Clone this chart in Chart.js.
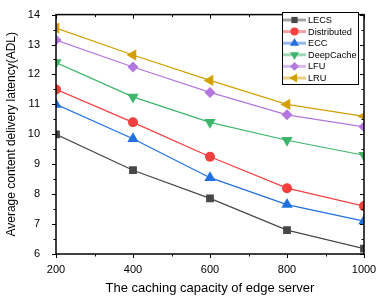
<!DOCTYPE html>
<html>
<head>
<meta charset="utf-8">
<script src="https://cdn.jsdelivr.net/npm/chart.js@4.4.1/dist/chart.umd.min.js"></script>
<style>
  html, body { margin: 0; padding: 0; background: #fff; }
  #wrap { width: 391px; height: 300px; }
</style>
</head>
<body>
<div id="wrap"><canvas id="c"></canvas></div>
<script>
// capacity values on the x axis
var capacity = [200, 400, 600, 800, 1000];

var lecs        = [10.0, 8.8, 7.86, 6.8, 6.18];
var distributed = [11.5, 10.4, 9.25, 8.2, 7.6];
var ecc         = [11.0, 9.85, 8.55, 7.65, 7.1];
var deepCache   = [12.4, 11.25, 10.4, 9.8, 9.3];
var lfu         = [13.15, 12.25, 11.4, 10.65, 10.25];
var lru         = [13.55, 12.65, 11.8, 11.0, 10.6];

var xTicks = [200, 400, 600, 800, 1000];
var yTicks = [6, 7, 8, 9, 10, 11, 12, 13, 14];

var FONT = '"Liberation Sans", Arial, sans-serif';

function pts(vals) {
  return vals.map(function (v, i) { return { x: capacity[i], y: v }; });
}

function serie(label, vals, color, style, rot, r) {
  return {
    label: label,
    data: pts(vals),
    borderColor: color,
    backgroundColor: color,
    borderWidth: 1.2,
    pointStyle: style,
    rotation: rot || 0,
    pointRadius: r,
    pointHoverRadius: r,
    pointBorderWidth: 0,
    tension: 0
  };
}

var datasets = [
  serie('LECS', lecs, '#474747', 'rect', 0, 5.5),
  serie('Distributed', distributed, '#f2403f', 'circle', 0, 5),
  serie('ECC', ecc, '#2170e0', 'triangle', 0, 6.5),
  serie('DeepCache', deepCache, '#3eb56b', 'triangle', 180, 6.5),
  serie('LFU', lfu, '#b477e0', 'rectRot', 0, 5.5),
  serie('LRU', lru, '#d3a000', 'triangle', -90, 6.5)
];

// frame + ticks on all four sides, Origin style
var frame = {
  id: 'frame',
  afterDatasetsDraw: function (chart) {
    var ctx = chart.ctx, a = chart.chartArea;
    var xs = chart.scales.x, ys = chart.scales.y;
    ctx.save();
    ctx.strokeStyle = '#000';
    ctx.lineWidth = 1;
    ctx.beginPath();
    for (var v = 200; v <= 1000; v += 100) {
      var px = Math.round(xs.getPixelForValue(v)) + 0.5;
      var len = (v % 200 === 0) ? 4 : 2.5;
      ctx.moveTo(px, a.bottom); ctx.lineTo(px, a.bottom + len);
      ctx.moveTo(px, a.top); ctx.lineTo(px, a.top + len);
    }
    for (var w = 6; w <= 14; w += 0.5) {
      var py = Math.round(ys.getPixelForValue(w)) + 0.5;
      var l2 = (w % 1 === 0) ? 4 : 2.5;
      ctx.moveTo(a.left, py); ctx.lineTo(a.left - l2, py);
      ctx.moveTo(a.right, py); ctx.lineTo(a.right - l2, py);
    }
    ctx.stroke();
    ctx.lineWidth = 1.5;
    ctx.strokeRect(a.left, a.top, a.right - a.left, a.bottom - a.top);
    ctx.restore();
  }
};

var boxLegend = {
  id: 'boxLegend',
  afterDraw: function (chart) {
    var ctx = chart.ctx;
    var x0 = 282, y0 = 12, w = 76, rowH = 11.6;
    var h = 72;
    ctx.save();
    ctx.fillStyle = '#fff';
    ctx.fillRect(x0, y0, w, h);
    ctx.strokeStyle = '#000';
    ctx.lineWidth = 1;
    ctx.strokeRect(x0 + 0.5, y0 + 0.5, w, h);
    ctx.font = '9.2px ' + FONT;
    ctx.textBaseline = 'middle';
    chart.data.datasets.forEach(function (ds, i) {
      var cy = y0 + 8 + i * rowH;
      ctx.globalAlpha = 0.5;
      ctx.strokeStyle = ds.borderColor;
      ctx.lineWidth = 3;
      ctx.beginPath();
      ctx.moveTo(x0 + 1, cy); ctx.lineTo(x0 + 24, cy);
      ctx.stroke();
      ctx.globalAlpha = 1;
      ctx.fillStyle = ds.backgroundColor;
      Chart.helpers.drawPoint(ctx, { pointStyle: ds.pointStyle, rotation: ds.rotation, radius: ds.pointRadius * 0.8, borderWidth: 0 }, x0 + 12.5, cy);
      ctx.fillStyle = '#000';
      ctx.fillText(ds.label, x0 + 26, cy + 0.5);
    });
    ctx.restore();
  }
};

new Chart(document.getElementById('c'), {
  type: 'line',
  data: { datasets: datasets },
  plugins: [frame, boxLegend],
  options: {
    responsive: true,
    maintainAspectRatio: false,
    animation: false,
    layout: { padding: { top: 5, right: 27, left: 0, bottom: 0 } },
    plugins: { legend: { display: false }, tooltip: { enabled: false } },
    scales: {
      x: {
        type: 'linear',
        min: 200, max: 1000,
        afterBuildTicks: function (s) { s.ticks = xTicks.map(function (v) { return { value: v }; }); },
        afterFit: function (s) { s.height = 46; },
        grid: { display: false },
        border: { display: false },
        ticks: { color: '#000', padding: 1, maxRotation: 0, callback: function (v) { return String(v); }, font: { size: 11, family: FONT } },
        title: { display: true, text: 'The caching capacity of edge server', color: '#000', padding: { top: 4 }, font: { size: 13, family: FONT } }
      },
      y: {
        min: 6, max: 14,
        afterBuildTicks: function (s) { s.ticks = yTicks.map(function (v) { return { value: v }; }); },
        afterFit: function (s) { s.width = 56; },
        grid: { display: false },
        border: { display: false },
        ticks: { color: '#000', padding: 8, font: { size: 11, family: FONT } },
        title: { display: true, text: 'Average content delivery latency(ADL)', color: '#000', padding: { bottom: 2 }, font: { size: 12, family: FONT } }
      }
    }
  }
});
</script>
</body>
</html>
